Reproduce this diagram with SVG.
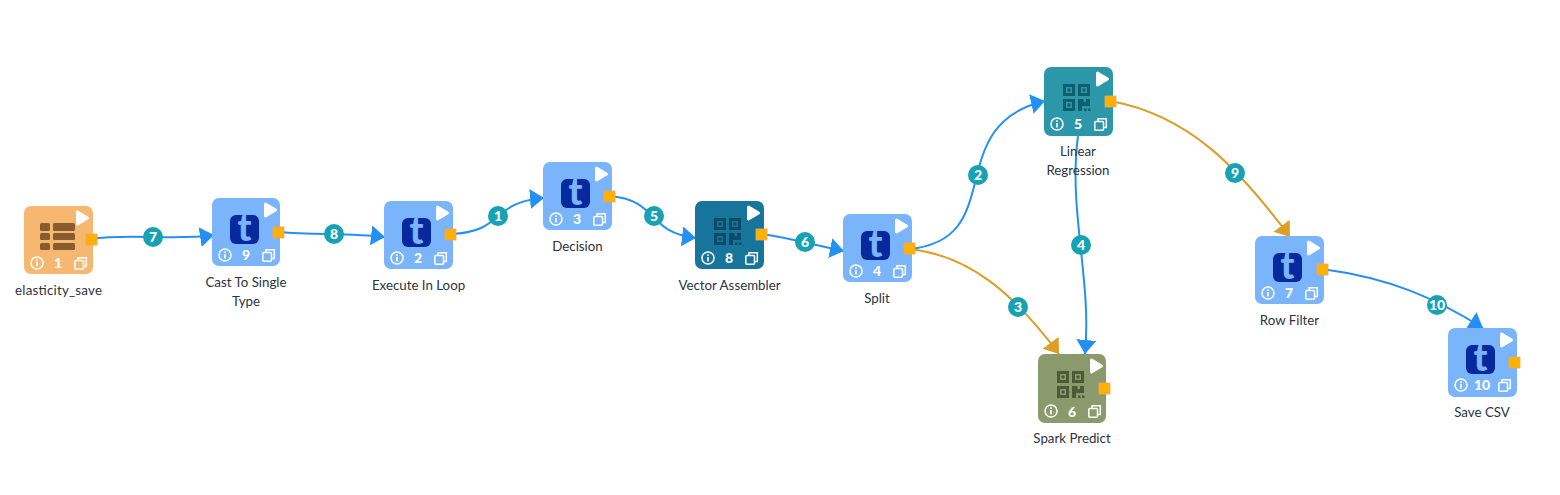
<svg xmlns="http://www.w3.org/2000/svg" width="1560" height="495" viewBox="0 0 1560 495">
<style>
.bg{stroke:none}
.lb{font-family:"Lato","Open Sans",sans-serif;font-size:13.300px;fill:#2b3340;text-anchor:middle}
.num{font-family:"Lato","Open Sans",sans-serif;font-size:14px;font-weight:900;fill:#fff;text-anchor:middle}
.bt{font-family:"Lato","Open Sans",sans-serif;font-size:14px;font-weight:900;fill:#fff;text-anchor:middle}
.badge{fill:#17A2B4}
.port{fill:#FFB100;stroke:#F7A35C;stroke-width:.8}
.play{fill:#fff;stroke:#fff;stroke-width:3;stroke-linejoin:round}
.c{fill:none;stroke-width:2}
.blue{stroke:#2490F5}.or{stroke:#DE9E26}
.ln{fill:none;stroke:#fff;stroke-width:1.500}
.tg{font-family:"Lato","DejaVu Sans",sans-serif;font-size:37px;font-weight:900;fill:#7AB5FB;text-anchor:middle}
</style>
<defs>
<marker id="ab" markerUnits="userSpaceOnUse" markerWidth="16" markerHeight="22" refX="14" refY="10" orient="auto"><path d="M0 0L14 10L0 20Z" fill="#2490F5"/></marker>
<marker id="ao" markerUnits="userSpaceOnUse" markerWidth="16" markerHeight="22" refX="14" refY="10" orient="auto"><path d="M0 0L14 10L0 20Z" fill="#DE9E26"/></marker>
<g id="chrome">
<path class="play" d="M53.500 6L63.500 12L53.500 18Z"/>
<circle class="ln" cx="13" cy="57" r="6"/>
<rect x="12.200" y="56" width="1.600" height="4.500" fill="#fff"/><rect x="12.200" y="53.300" width="1.600" height="1.600" fill="#fff"/>
<rect class="ln" x="50.800" y="54.500" width="8.700" height="8.700" rx="1"/>
<path class="ln" d="M54 54.500V51.800H62.300V60.500H59.500"/>
</g>
<g id="tic">
<rect x="18" y="17" width="29" height="29" rx="6" fill="#08289E"/>
</g>
<g id="qr" fill="none" stroke="currentColor" stroke-width="3">
<rect x="20.500" y="18.500" width="9" height="9"/><rect x="35.500" y="18.500" width="9" height="9"/><rect x="20.500" y="33.500" width="9" height="9"/>
<rect x="23.500" y="21.500" width="3" height="3" fill="currentColor" stroke="none"/><rect x="38.500" y="21.500" width="3" height="3" fill="currentColor" stroke="none"/><rect x="23.500" y="36.500" width="3" height="3" fill="currentColor" stroke="none"/>
<path d="M34 44V32H39.500V35H42V32H46V39H38V44Z" fill="currentColor" stroke="none"/>
<rect x="40" y="41.500" width="2.500" height="2.500" fill="currentColor" stroke="none"/><rect x="44" y="41.500" width="2.500" height="2.500" fill="currentColor" stroke="none"/>
</g>
</defs>
<g id="connectors">
<path class="c blue" marker-end="url(#ab)" d="M91 239C130 233 175 241 214 235"/>
<path class="c blue" marker-end="url(#ab)" d="M279 232C315 235 350 233 385 237"/>
<path class="c blue" marker-end="url(#ab)" d="M451 234C505 232 490 202 544 198"/>
<path class="c blue" marker-end="url(#ab)" d="M609 196C660 200 645 232 696 238"/>
<path class="c blue" marker-end="url(#ab)" d="M762 234C790 238 815 245 844 251"/>
<path class="c blue" marker-end="url(#ab)" d="M909 249C1010 240 940 125 1045 101"/>
<path class="c or" marker-end="url(#ao)" d="M909 249C970 255 1015 295 1059 354"/>
<path class="c blue" marker-end="url(#ab)" d="M1078 136C1068 210 1092 280 1085 354"/>
<path class="c or" marker-end="url(#ao)" d="M1110 101C1190 115 1240 170 1290 237"/>
<path class="c blue" marker-end="url(#ab)" d="M1322 269C1390 278 1435 298 1483 328"/>
<circle class="badge" cx="153" cy="237" r="10"/><text class="bt" x="153" y="242">7</text>
<circle class="badge" cx="334" cy="234" r="10"/><text class="bt" x="334" y="239">8</text>
<circle class="badge" cx="498" cy="216" r="10"/><text class="bt" x="498" y="221">1</text>
<circle class="badge" cx="654" cy="216" r="10"/><text class="bt" x="654" y="221">5</text>
<circle class="badge" cx="805" cy="242" r="10"/><text class="bt" x="805" y="247">6</text>
<circle class="badge" cx="978" cy="175" r="10"/><text class="bt" x="978" y="180">2</text>
<circle class="badge" cx="1018" cy="307" r="10"/><text class="bt" x="1018" y="312">3</text>
<circle class="badge" cx="1081" cy="245" r="10"/><text class="bt" x="1081" y="250">4</text>
<circle class="badge" cx="1235" cy="173" r="10"/><text class="bt" x="1235" y="178">9</text>
<circle class="badge" cx="1437" cy="305" r="10"/><text class="bt" x="1437" y="310">10</text>
</g>
<g id="node1" transform="translate(24 206)"><rect class="bg" width="69" height="68" rx="7" fill="#F6B871"/>
<g fill="#875C2F"><rect x="16" y="17" width="10" height="8" rx="1.500"/><rect x="29" y="17" width="22" height="8" rx="1.500"/><rect x="16" y="27" width="10" height="7" rx="1.500"/><rect x="29" y="27" width="22" height="7" rx="1.500"/><rect x="16" y="37" width="10" height="7" rx="1.500"/><rect x="29" y="37" width="22" height="7" rx="1.500"/></g>
<use href="#chrome"/><text class="num" x="34" y="62">1</text><rect class="port" x="62" y="28" width="11" height="11"/>
<text class="lb" x="34.500" y="89" textLength="87">elasticity_save</text></g>
<g id="node9" transform="translate(212 198)"><rect class="bg" width="68" height="68" rx="7" fill="#7AB5FB"/><use href="#tic"/><text class="tg" x="32.500" y="43">t</text>
<use href="#chrome"/><text class="num" x="34" y="62">9</text><rect class="port" x="61" y="29" width="11" height="11"/>
<text class="lb" x="34" y="89">Cast To Single</text><text class="lb" x="34" y="108">Type</text></g>
<g id="node2" transform="translate(384 201)"><rect class="bg" width="69" height="68" rx="7" fill="#7AB5FB"/><use href="#tic"/><text class="tg" x="32.500" y="43">t</text>
<use href="#chrome"/><text class="num" x="34" y="62">2</text><rect class="port" x="61" y="28" width="11" height="11"/>
<text class="lb" x="34.500" y="89">Execute In Loop</text></g>
<g id="node3" transform="translate(543 162)"><rect class="bg" width="69" height="68" rx="7" fill="#7AB5FB"/><use href="#tic"/><text class="tg" x="32.500" y="43">t</text>
<use href="#chrome"/><text class="num" x="34" y="62">3</text><rect class="port" x="61" y="29" width="11" height="11"/>
<text class="lb" x="34.500" y="89">Decision</text></g>
<g id="node8" transform="translate(695 201)" color="#0D4A68"><rect class="bg" width="69" height="68" rx="7" fill="#17759C"/><use href="#qr"/>
<use href="#chrome"/><text class="num" x="34" y="62">8</text><rect class="port" x="61" y="28" width="11" height="11"/>
<text class="lb" x="34.500" y="89">Vector Assembler</text></g>
<g id="node4" transform="translate(843 214)"><rect class="bg" width="69" height="68" rx="7" fill="#7AB5FB"/><use href="#tic"/><text class="tg" x="32.500" y="43">t</text>
<use href="#chrome"/><text class="num" x="34" y="62">4</text><rect class="port" x="61" y="29" width="11" height="11"/>
<text class="lb" x="34" y="89">Split</text></g>
<g id="node5" transform="translate(1044 67)" color="#0D5F70"><rect class="bg" width="69" height="69" rx="7" fill="#2B97A8"/><use href="#qr"/>
<use href="#chrome"/><text class="num" x="34" y="62">5</text><rect class="port" x="61" y="29" width="11" height="11"/>
<text class="lb" x="34" y="89">Linear</text><text class="lb" x="34" y="108">Regression</text></g>
<g id="node6" transform="translate(1038 354)" color="#4E5A36"><rect class="bg" width="68" height="69" rx="7" fill="#8A9A6D"/><use href="#qr"/>
<use href="#chrome"/><text class="num" x="34" y="63">6</text><rect class="port" x="61" y="29" width="11" height="11"/>
<text class="lb" x="34" y="89">Spark Predict</text></g>
<g id="node7" transform="translate(1255 236)"><rect class="bg" width="69" height="68" rx="7" fill="#7AB5FB"/><use href="#tic"/><text class="tg" x="32.500" y="43">t</text>
<use href="#chrome"/><text class="num" x="34" y="62">7</text><rect class="port" x="62" y="28" width="11" height="11"/>
<text class="lb" x="34.500" y="89">Row Filter</text></g>
<g id="node10" transform="translate(1448 328)"><rect class="bg" width="69" height="69" rx="7" fill="#7AB5FB"/><use href="#tic"/><text class="tg" x="32.500" y="43">t</text>
<use href="#chrome"/><text class="num" x="34" y="62">10</text><rect class="port" x="61" y="29" width="11" height="11"/>
<text class="lb" x="34" y="89">Save CSV</text></g>
</svg>
